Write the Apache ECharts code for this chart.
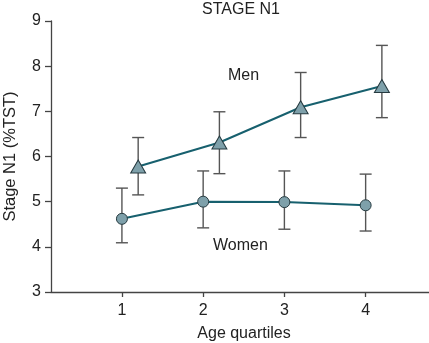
<!DOCTYPE html>
<html>
<head>
<meta charset="utf-8">
<script src="https://cdn.jsdelivr.net/npm/echarts@6/dist/echarts.min.js"></script>
<style>html,body{margin:0;padding:0;background:#fff}#c{width:429px;height:343px}</style>
</head>
<body>
<div id="c"></div>
<script>
const quartiles = [1, 2, 3, 4];
const menMean = [5.78, 6.31, 7.09, 7.56];
const menLow = [5.15, 5.62, 6.42, 6.86];
const menHigh = [6.42, 6.99, 7.86, 8.46];
const womenMean = [4.62, 5.00, 4.99, 4.92];
const womenLow = [4.09, 4.42, 4.39, 4.35];
const womenHigh = [5.30, 5.68, 5.68, 5.61];
const yTicks = [3, 4, 5, 6, 7, 8, 9];

const MEN_SHIFT = 0.2;
const FONT = '"Liberation Sans", Arial, Helvetica, sans-serif';
const LINE = '#17606e';
const FILL = '#7ea0aa';
const EDGE = '#263a40';
const ERR = '#555555';

const chart = echarts.init(document.getElementById('c'));

function errData(xs, lo, hi, shift) {
  return xs.map((x, i) => [x + shift, lo[i], hi[i]]);
}
function errRender(params, api) {
  const x = api.value(0);
  const lo = api.coord([x, api.value(1)]);
  const hi = api.coord([x, api.value(2)]);
  const w = 6;
  const st = { stroke: ERR, lineWidth: 1.4 };
  return {
    type: 'group',
    children: [
      { type: 'line', shape: { x1: lo[0], y1: lo[1], x2: hi[0], y2: hi[1] }, style: st },
      { type: 'line', shape: { x1: lo[0] - w, y1: lo[1], x2: lo[0] + w, y2: lo[1] }, style: st },
      { type: 'line', shape: { x1: hi[0] - w, y1: hi[1], x2: hi[0] + w, y2: hi[1] }, style: st }
    ]
  };
}

chart.setOption({
  animation: false,
  textStyle: { fontFamily: FONT },
  graphic: [
    { type: 'text', left: 202, top: 2, style: { text: 'STAGE N1', font: '16px ' + FONT, fill: '#222' } },
    { type: 'text', left: 228, top: 68, style: { text: 'Men', font: '16px ' + FONT, fill: '#222' } },
    { type: 'text', left: 213, top: 238, style: { text: 'Women', font: '16px ' + FONT, fill: '#222' } }
  ],
  grid: { left: 51, right: 0, top: 21, bottom: 51, outerBoundsMode: 'none', containLabel: false },
  xAxis: {
    type: 'value', min: 0.127, max: 4.78,
    name: 'Age quartiles', nameLocation: 'middle', nameGap: 34,
    nameTextStyle: { fontFamily: FONT, fontSize: 16, color: '#222', padding: [0, 0, 0, 8] },
    axisLine: { lineStyle: { color: '#444', width: 1.3 } },
    axisTick: { show: true, length: 5, lineStyle: { color: '#444', width: 1.3 }, customValues: quartiles },
    axisLabel: { customValues: quartiles, margin: 11, fontSize: 16, color: '#222', fontFamily: FONT },
    splitLine: { show: false }
  },
  yAxis: {
    type: 'value', min: 3, max: 9, interval: 1,
    name: 'Stage N1 (%TST)', nameLocation: 'middle', nameGap: 32, nameRotate: 90,
    nameTextStyle: { fontFamily: FONT, fontSize: 16.5, color: '#222' },
    axisLine: { show: true, lineStyle: { color: '#444', width: 1.3 } },
    axisTick: { show: true, length: 6, lineStyle: { color: '#444', width: 1.3 } },
    axisLabel: { margin: 10, fontSize: 16, color: '#222', fontFamily: FONT,
      formatter: v => yTicks.includes(v) ? String(v) : '' },
    splitLine: { show: false }
  },
  series: [
    { type: 'custom', z: 1, renderItem: errRender, data: errData(quartiles, womenLow, womenHigh, 0) },
    { type: 'custom', z: 1, renderItem: errRender, data: errData(quartiles, menLow, menHigh, MEN_SHIFT) },
    {
      type: 'line', z: 5, data: quartiles.map((x, i) => [x, womenMean[i]]),
      symbol: 'circle', symbolSize: 11,
      lineStyle: { color: LINE, width: 2 },
      itemStyle: { color: FILL, borderColor: EDGE, borderWidth: 1 }
    },
    {
      type: 'line', z: 5, data: quartiles.map((x, i) => [x + MEN_SHIFT, menMean[i]]),
      symbol: 'triangle', symbolSize: [15, 13],
      lineStyle: { color: LINE, width: 2 },
      itemStyle: { color: FILL, borderColor: EDGE, borderWidth: 1 }
    }
  ]
});
</script>
</body>
</html>
